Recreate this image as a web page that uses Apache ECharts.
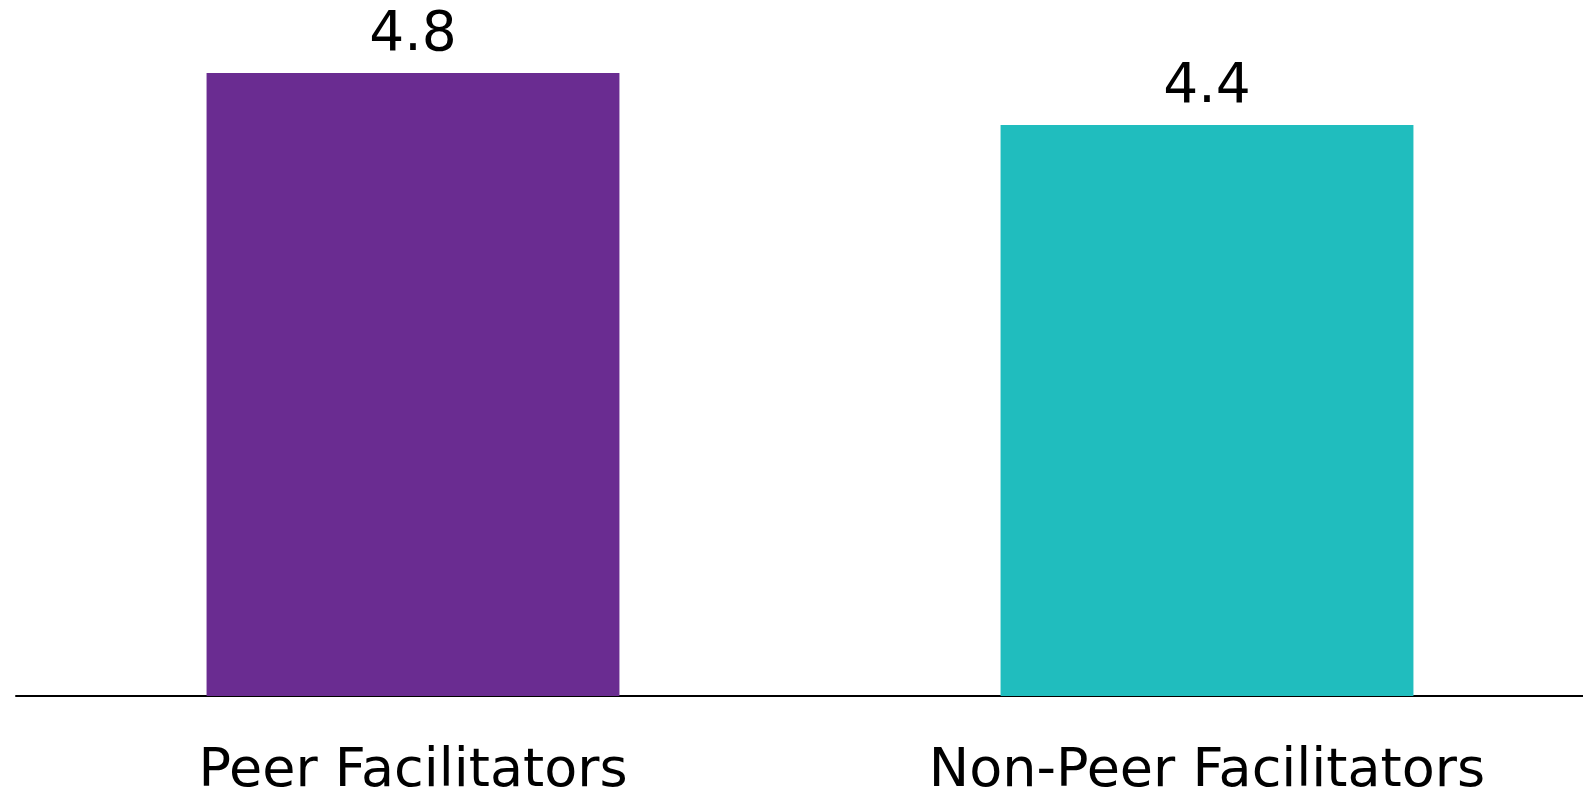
<!DOCTYPE html>
<html>
<head>
	<meta charset="utf-8">
	<script src="https://cdn.jsdelivr.net/npm/echarts@6/dist/echarts.min.js"></script>
</head>
<body style="margin:0;background:#fff;">
	<div id="main" style="width:1583px;height:792px;"></div>
	<script type="text/javascript">
        // data
        var categories = ['Peer Facilitators', 'Non-Peer Facilitators'];
        var scores = [4.8, 4.4];
        var barColors = ['#6a2c91', '#20bdbe'];

        var myChart = echarts.init(document.getElementById('main'));
        var option = {
            animation: false,
            grid: {
                left: 16,
                width: 1588,
                top: 47,
                bottom: 96,
                outerBoundsMode: 'none',
                containLabel: false
            },
            xAxis: {
                type: 'category',
                data: categories,
                axisLine: { lineStyle: { color: '#000', width: 2 } },
                axisTick: { show: false },
                axisLabel: {
                    color: '#000',
                    fontFamily: 'DejaVu Sans',
                    fontSize: 54,
                    margin: 49
                }
            },
            yAxis: {
                type: 'value',
                min: 0,
                max: 5,
                show: false
            },
            series: [{
                type: 'bar',
                barWidth: '52%',
                data: scores.map(function (v, i) {
                    return { value: v, itemStyle: { color: barColors[i] } };
                }),
                label: {
                    show: true,
                    position: 'top',
                    distance: 10,
                    color: '#000',
                    fontFamily: 'DejaVu Sans',
                    fontSize: 55,
                    formatter: function (p) { return p.value.toFixed(1); }
                }
            }]
        };
        myChart.setOption(option);
    </script>
</body>
</html>
